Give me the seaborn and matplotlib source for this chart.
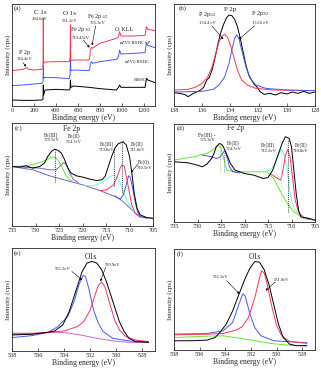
import numpy as np
import pandas as pd
import seaborn as sns
import matplotlib.pyplot as plt

# ---------------- (a) survey ----------------
a_rshc_x = [0, 100, 200, 270, 282, 284.6, 287, 300, 400, 520, 528, 531, 535, 560, 700, 800, 950, 968, 978, 990, 1100, 1210, 1222, 1235, 1300]
a_rshc_y = [18, 17, 17, 18, 20, 63, 33, 48, 50, 48, 52, 78, 56, 60, 56, 52, 48, 56, 63, 56, 56, 56, 83, 78, 70]
a_nz_x = [0, 100, 200, 270, 282, 284.6, 288, 300, 400, 520, 528, 531.2, 535, 560, 700, 708, 712, 725, 730, 800, 950, 968, 978, 990, 1100, 1210, 1222, 1235, 1300]
a_nz_y = [61, 63, 66, 68, 72, 123, 83, 86, 85, 82, 93, 143, 106, 108, 106, 113, 128, 133, 128, 133, 140, 148, 168, 156, 158, 160, 190, 182, 175]
a_nzp_x = [0, 100, 134, 150, 200, 270, 282, 284.6, 287, 300, 400, 520, 528, 531.2, 535, 560, 700, 708, 712, 725, 730, 800, 900, 950, 968, 978, 990, 1100, 1210, 1222, 1235, 1300]
a_nzp_y = [106, 110, 115, 110, 108, 110, 113, 263, 128, 132, 133, 133, 143, 243, 136, 138, 138, 148, 168, 176, 173, 188, 198, 203, 208, 223, 210, 210, 212, 238, 230, 226]

# ---------------- (b) P 2p ----------------
b_env_x = [138, 137.6, 137.2, 137, 136.7, 136.4, 136.1, 135.9, 135.7, 135.5, 135.3, 135.1, 134.9, 134.7, 134.5, 134.3, 134.1, 133.9,
           133.7, 133.5, 133.3, 133.1, 132.9, 132.7, 132.4, 132.1, 131.9, 131.6, 131.2, 130.8, 130.4, 130, 129.6, 129.2, 128.8, 128.4, 128]
b_env_y = [40, 38, 34, 28, 36, 42, 48, 56, 76, 86, 108, 143, 183, 218, 243, 263, 273, 271, 260, 238, 203, 163, 123, 93, 70, 56, 43,
           35, 38, 33, 40, 36, 42, 38, 44, 38, 42]
b_p12_x = [138, 137, 136.5, 136, 135.6, 135.3, 135, 134.8, 134.6, 134.4, 134.2, 134, 133.8, 133.5, 133.2, 132.8, 132.2, 131, 128]
b_p12_y = [48, 50, 56, 68, 88, 118, 163, 193, 210, 215, 206, 183, 153, 108, 78, 63, 53, 48, 46]
b_p32_x = [138, 136, 135.2, 134.8, 134.4, 134.1, 133.9, 133.7, 133.55, 133.4, 133.2, 132.9, 132.6, 132.2, 131.5, 130, 128]
b_p32_y = [42, 44, 50, 63, 88, 128, 168, 203, 213, 203, 168, 118, 83, 63, 53, 48, 46]

# ---------------- (c) Fe 2p, nZVI-RSHC ----------------
c_env_x = [735, 733.4, 732, 730.6, 729.1, 728.1, 727.4, 726.6, 725.9, 725.2, 724.5, 723.8, 723.1, 722.4, 721.3, 719.9, 718.4, 717,
           715.9, 715.2, 714.5, 713.8, 713.1, 712.4, 711.4, 710.7, 710, 709.5, 709, 708.4, 707.7, 706.3, 705]
c_env_y = [178, 176, 180, 173, 178, 188, 208, 223, 230, 226, 218, 198, 173, 158, 150, 146, 140, 136, 138, 148, 178, 208, 233, 246,
           252, 243, 208, 158, 98, 53, 33, 25, 23]
c_bg_x = [735, 730.6, 727, 723.4, 719.9, 716.3, 713.4, 712, 710.6, 709.1, 707.7, 705]
c_bg_y = [178, 168, 150, 136, 123, 106, 90, 80, 63, 43, 28, 23]
c_fe3a_x = [735, 732, 729.9, 728.4, 727.4, 726.3, 725.7, 725, 724.1, 723.4, 722.7, 722]
c_fe3a_y = [178, 180, 186, 193, 200, 206, 205, 193, 168, 148, 138, 133]
c_fe2a_x = [735, 729.1, 727, 725.6, 724.5, 724, 723.4, 722.7, 722, 720.9]
c_fe2a_y = [178, 173, 168, 168, 183, 190, 183, 158, 140, 130]
c_fe3b_x = [719.9, 718.4, 717, 715.6, 714.5, 713.8, 713.3, 712.7, 712, 711.3, 710.6, 709.5, 708.4, 707]
c_fe3b_y = [123, 120, 123, 133, 143, 150, 153, 148, 128, 103, 78, 50, 33, 25]
c_fe2b_x = [716.3, 714.9, 713.4, 712.6, 712, 711.6, 711.1, 710.6, 710, 709.5, 708.8, 707.7]
c_fe2b_y = [106, 108, 123, 148, 173, 183, 178, 143, 98, 63, 38, 26]
c_fe0_x = [713.1, 712, 711.3, 710.7, 710.2, 709.9, 709.4, 708.8, 708.3, 707.7, 706.3]
c_fe0_y = [90, 80, 93, 123, 150, 148, 118, 73, 43, 28, 23]
c_peaks = [725.9, 713.4, 711.7]
c_peak_lo = [133, 120, 100]
c_peak_hi = [228, 230, 250]

# ---------------- (d) Fe 2p, nZVI-RSHC+P ----------------
d_env_x = [735, 732, 730, 729, 728, 727, 726.5, 726, 725.3, 724.7, 724, 723, 722, 720, 718, 716, 715, 714, 713, 712, 711.3,
           710.5, 710, 709.5, 709, 708.5, 708, 706, 705]
d_env_y = [180, 177, 170, 165, 173, 190, 205, 225, 235, 230, 210, 175, 155, 145, 140, 130, 133, 155, 195, 235, 255, 250, 225,
           155, 85, 35, 15, 10, 5]
d_bg_x = [735, 730, 729.6, 728, 727, 726, 725.6, 725, 724.5, 723.8, 722, 718, 715.2, 713.8, 712.3, 710.9, 709.5, 707.3, 705]
d_bg_y = [185, 197, 200, 205, 213, 225, 230, 220, 195, 155, 150, 150, 150, 130, 90, 55, 30, 10, 5]
d_fe2a_x = [729, 727, 726, 725.3, 724.7, 724.2, 723.7, 723.2, 722.5, 721]
d_fe2a_y = [200, 195, 190, 193, 205, 213, 195, 165, 150, 147]
d_fe3b_x = [716, 714.5, 713.5, 712.8, 712.2, 711.6, 711, 710.5, 710, 709.3, 708, 706]
d_fe3b_y = [150, 155, 175, 200, 217, 205, 165, 105, 65, 37, 17, 7]
d_fe2b_x = [714.5, 713.3, 712.3, 711.8, 711.3, 710.8, 710.3, 709.8, 709.2, 708.5, 707.5, 706]
d_fe2b_y = [145, 133, 125, 155, 200, 217, 195, 135, 65, 30, 15, 7]
d_peaks = [725.3, 724.4, 712.2, 710.8]
d_peak_lo = [150, 150, 60, 30]
d_peak_hi = [232, 215, 225, 245]

# ---------------- (e) O1s, nZVI-RSHC ----------------
e_env_x = [538, 536.46, 535.21, 534.72, 534.09, 533.6, 533.1, 532.6, 532.23, 531.86, 531.48, 531.11, 530.74, 530.24, 529.74,
           529.37, 529, 528.5, 527.5]
e_env_y = [48, 50, 56, 60, 78, 118, 178, 238, 263, 268, 263, 243, 208, 148, 88, 58, 38, 28, 26]
e_b_x = [538, 536.46, 535.21, 534.47, 533.72, 533.22, 532.85, 532.53, 532.35, 532.1, 531.73, 531.36, 530.99, 530.24, 529, 527.5]
e_b_y = [40, 46, 56, 73, 103, 148, 198, 226, 223, 188, 123, 83, 58, 38, 30, 28]
e_r_x = [538, 536.46, 535.21, 533.97, 532.98, 532.48, 531.98, 531.61, 531.36, 531.11, 530.86, 530.49, 530.11, 529.74, 529.24,
         528.5, 527.5]
e_r_y = [53, 53, 56, 60, 73, 88, 123, 168, 196, 206, 193, 143, 93, 63, 43, 33, 28]
e_bg_x = [538, 536.46, 535.21, 533.97, 532.73, 531.48, 530.24, 529, 527.5]
e_bg_y = [50, 52, 55, 55, 48, 38, 30, 26, 25]

# ---------------- (f) O1s, nZVI-RSHC+P ----------------
f_env_x = [538, 536.64, 535.41, 534.79, 534.42, 533.93, 533.43, 532.94, 532.44, 532.07, 531.7, 531.33, 530.96, 530.59, 530.22,
           529.85, 529.48, 528.99, 528.49, 527.63]
f_env_y = [28, 28, 30, 38, 53, 78, 118, 168, 218, 248, 268, 266, 243, 198, 138, 78, 38, 18, 13, 13]
f_r_x = [538, 535.41, 534.17, 533.19, 532.69, 532.2, 531.7, 531.33, 531.16, 530.96, 530.72, 530.35, 529.98, 529.6, 528.99, 527.63]
f_r_y = [46, 48, 50, 60, 70, 98, 158, 218, 240, 233, 198, 128, 73, 43, 26, 20]
f_b_x = [538, 535.41, 534.17, 533.43, 532.94, 532.64, 532.44, 532.07, 531.7, 531.21, 530.22, 527.63]
f_b_y = [48, 50, 58, 83, 138, 170, 163, 108, 68, 43, 28, 22]
f_bg_x = [538, 536.64, 535.41, 534.17, 532.94, 531.7, 530.47, 529.23, 527.63]
f_bg_y = [38, 40, 42, 43, 36, 28, 20, 15, 13]

RED = '#ff3355'
BLUE = '#4b55ff'
GREEN = '#66e633'
CYAN = '#66ffe0'
PURPLE = '#7a62cc'
SLATE = '#6a6ab8'
MAG = '#cc66cc'

sns.set_style('ticks')
plt.rcParams['font.family'] = ['Liberation Serif', 'DejaVu Serif']
plt.rcParams['mathtext.fontset'] = 'stix'

fig = plt.figure(figsize=(3.21, 3.70), dpi=100)
W, H = 321, 370


def mk(l, t, r, b):
    return fig.add_axes([l / W, 1 - b / H, (r - l) / W, (b - t) / H])


axa = mk(12, 4, 155, 106)
axb = mk(174, 4, 315, 106)
axc = mk(12, 123, 153, 226)
axd = mk(174, 124, 315, 222)
axe = mk(12, 248, 155, 351)
axf = mk(174, 249, 315, 350)


def line(ax, x, y, c, lw=0.7):
    d = pd.DataFrame({'x': x, 'y': y})
    sns.lineplot(data=d, x='x', y='y', ax=ax, color=c, lw=lw, sort=False, estimator=None)


def style(ax, xlim, ticks, ylim):
    ax.set_xlim(*xlim)
    ax.set_ylim(*ylim)
    ax.set_xticks(ticks)
    ax.set_yticks([])
    ax.tick_params(axis='x', direction='in', length=2, width=0.5, labelsize=4.5, pad=1.5)
    ax.set_xlabel('Binding energy (eV)', fontsize=5.5, labelpad=0.5)
    ax.set_ylabel('Intensity (cps)', fontsize=5, labelpad=1)
    for s in ax.spines.values():
        s.set_linewidth(0.6)


def note(ax, txt, xy, fs=3.3, **kw):
    ax.text(xy[0], xy[1], txt, fontsize=fs, ha='center', va='center', **kw)


def arrow(ax, start, end):
    ax.annotate('', xy=end, xytext=start, arrowprops=dict(arrowstyle='-|>', lw=0.4, color='k',
                                                          mutation_scale=3, shrinkA=0, shrinkB=0))


# (a)
line(axa, a_rshc_x, a_rshc_y, 'k')
line(axa, a_nz_x, a_nz_y, BLUE)
line(axa, a_nzp_x, a_nzp_y, RED)
style(axa, (0, 1300), [0, 200, 400, 600, 800, 1000, 1200], (0, 306))
note(axa, '(a)', (50, 293), fs=5)
note(axa, 'C 1s', (255, 280), fs=5)
note(axa, '284.6eV', (255, 262))
note(axa, 'O 1s', (520, 276), fs=5)
note(axa, '531.2eV', (520, 256))
note(axa, r'Fe 2p$_{3/2}$', (625, 228), fs=4.5)
note(axa, '710.43eV', (625, 205))
arrow(axa, (650, 198), (705, 175))
note(axa, r'Fe 2p$_{1/2}$', (780, 268), fs=4.5)
note(axa, '725.3eV', (780, 248))
arrow(axa, (760, 240), (728, 182))
note(axa, 'O KLL', (1020, 228), fs=4.5)
note(axa, 'nZVI-RSHC+P', (1125, 188), fs=3.6)
note(axa, 'nZVI-RSHC', (1140, 133), fs=3.6)
note(axa, 'RSHC', (1170, 78), fs=3.6)
note(axa, 'P 2p', (110, 160), fs=4.5)
note(axa, '134.4eV', (115, 140))
arrow(axa, (100, 130), (130, 118))

# (b)
line(axb, b_env_x, b_env_y, 'k')
line(axb, b_p12_x, b_p12_y, RED)
line(axb, b_p32_x, b_p32_y, BLUE)
style(axb, (138, 128), [138, 136, 134, 132, 130, 128], (0, 306))
note(axb, '(b)', (137.4, 293), fs=5)
note(axb, 'P 2p', (134.0, 290), fs=5)
note(axb, r'P 2p$_{1/2}$', (135.6, 273), fs=4.5)
note(axb, '134.4 eV', (135.6, 250))
arrow(axb, (135.3, 240), (134.5, 200))
note(axb, r'P 2p$_{3/2}$', (131.9, 276), fs=4.5)
note(axb, '133.6 eV', (131.9, 250))
arrow(axb, (132.3, 240), (133.4, 200))

# (c)
line(axc, c_bg_x, c_bg_y, SLATE)
line(axc, c_fe3a_x, c_fe3a_y, GREEN)
line(axc, c_fe2a_x, c_fe2a_y, PURPLE)
line(axc, c_fe3b_x, c_fe3b_y, CYAN)
line(axc, c_fe2b_x, c_fe2b_y, RED)
line(axc, c_fe0_x, c_fe0_y, BLUE)
line(axc, c_env_x, c_env_y, 'k')
axc.vlines(c_peaks, c_peak_lo, c_peak_hi, colors='k', linestyles=(0, (1.5, 1.5)), lw=0.5)
style(axc, (735, 705), [735, 730, 725, 720, 715, 710, 705], (0, 308))
note(axc, '(c)', (733.6, 293), fs=5)
note(axc, 'Fe 2p', (722.3, 291), fs=5.5)
note(axc, 'Fe(III)', (726.6, 273), fs=4)
note(axc, '725.9eV', (726.6, 256))
note(axc, 'Fe(II)', (721.8, 270), fs=4)
note(axc, '724.3eV', (721.8, 252))
note(axc, 'Fe(III)', (714.8, 246), fs=4)
note(axc, '713.6eV', (714.8, 228))
note(axc, 'Fe(II)', (708.4, 246), fs=4)
note(axc, '711.8eV', (708.4, 228))
note(axc, 'Fe(0)', (706.9, 190), fs=4)
note(axc, '710.5eV', (706.9, 172))
arrow(axc, (708.2, 185), (709.7, 160))

# (d)
line(axd, d_bg_x, d_bg_y, GREEN)
line(axd, d_fe2a_x, d_fe2a_y, BLUE)
line(axd, d_fe3b_x, d_fe3b_y, CYAN)
line(axd, d_fe2b_x, d_fe2b_y, RED)
line(axd, d_env_x, d_env_y, 'k')
axd.vlines(d_peaks, d_peak_lo, d_peak_hi, colors=[GREEN, BLUE, CYAN, 'k'], linestyles=(0, (1.5, 1.5)), lw=0.5)
style(axd, (735, 705), [735, 730, 725, 720, 715, 710, 705], (0, 293))
note(axd, '(d)', (733.6, 280), fs=5)
note(axd, 'Fe 2p', (722, 280), fs=5.5)
note(axd, 'Fe(III) -', (728.0, 260), fs=4)
note(axd, '725.3eV', (727.8, 245))
note(axd, 'Fe(II)', (722.4, 235), fs=4)
note(axd, '724.3eV', (722.2, 218))
note(axd, 'Fe(III)', (714.9, 230), fs=4)
note(axd, '712.2eV', (714.9, 212))
note(axd, 'Fe(II)', (708.0, 230), fs=4)
note(axd, '710.8eV', (708.0, 212))

# (e)
line(axe, e_bg_x, e_bg_y, MAG)
line(axe, e_b_x, e_b_y, BLUE)
line(axe, e_r_x, e_r_y, RED)
line(axe, e_env_x, e_env_y, 'k')
style(axe, (538, 527), [538, 536, 534, 532, 530, 528], (0, 308))
note(axe, '(e)', (537.6, 293), fs=5)
note(axe, 'O1s', (531.9, 280), fs=5.5)
note(axe, '532.2eV', (534.1, 246))
arrow(axe, (533.4, 238), (532.6, 212))
note(axe, '530.9eV', (530.3, 258))
arrow(axe, (530.8, 250), (531.2, 208))

# (f)
line(axf, f_bg_x, f_bg_y, GREEN)
line(axf, f_b_x, f_b_y, BLUE)
line(axf, f_r_x, f_r_y, RED)
line(axf, f_env_x, f_env_y, 'k')
style(axf, (538, 527), [538, 536, 534, 532, 530, 528], (0, 306))
note(axf, '(f)', (537.5, 292), fs=5)
note(axf, 'O1s', (531.7, 282), fs=5.5)
note(axf, '532.3eV', (534.4, 220))
arrow(axf, (533.9, 210), (532.9, 170))
note(axf, '531.0eV', (529.6, 212))
arrow(axf, (530.1, 206), (530.85, 180))

fig.savefig('out.png', dpi=100)
